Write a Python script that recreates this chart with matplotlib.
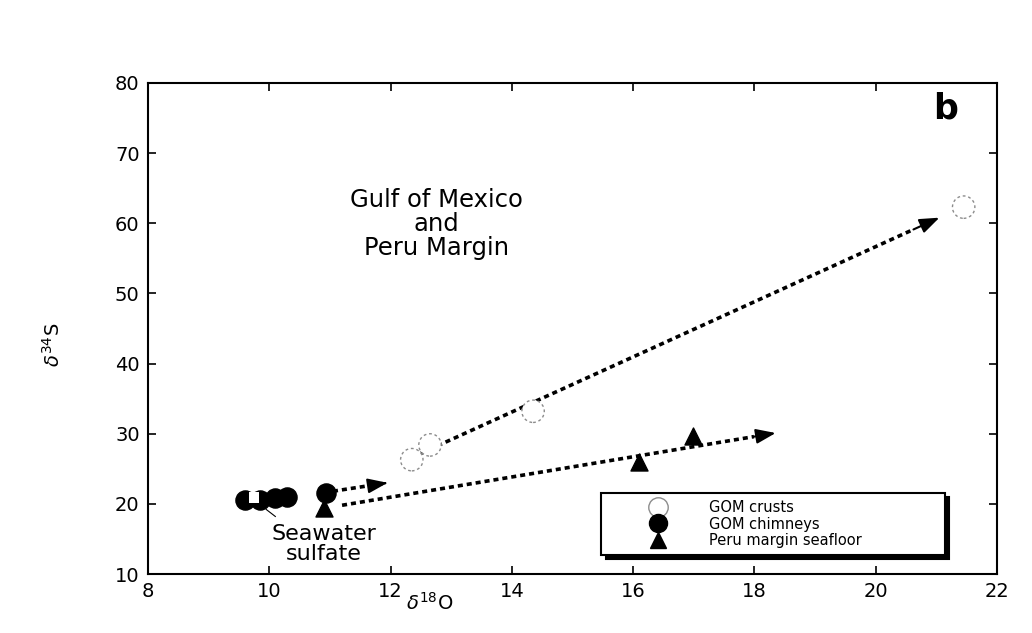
import matplotlib
matplotlib.use("Agg")
import matplotlib.pyplot as plt
from matplotlib.lines import Line2D

plt.rcParams['font.family'] = ['DejaVu Sans']
plt.rcParams['mathtext.fontset'] = 'dejavusans'

# delta-18O / delta-34S values
crust_d18o = [12.35, 12.65, 14.35, 21.45]
crust_d34s = [26.3, 28.4, 33.2, 62.3]

chimney_d18o = [9.60, 9.85, 10.10, 10.30, 10.93]
chimney_d34s = [20.6, 20.5, 20.9, 21.0, 21.6]

peru_d18o = [10.90, 16.10, 16.98]
peru_d34s = [19.4, 26.0, 29.7]

seawater_d18o = [9.75]
seawater_d34s = [20.9]

# trend arrows: (start d18O, start d34S, end d18O, end d34S)
trend_arrows = [
    (11.05, 21.8, 11.95, 23.0),
    (12.50, 27.2, 21.05, 60.8),
    (11.20, 19.8, 18.35, 30.1),
]

fig = plt.figure(figsize=(10.32, 6.33), dpi=100)
ax = fig.add_axes([0.1434, 0.0932, 0.8227, 0.7757])

ax.set_xlim(8, 22)
ax.set_ylim(10, 80)
ax.set_xticks(range(8, 23, 2))
ax.set_yticks(range(10, 81, 10))
ax.tick_params(direction='in', length=6, width=1.2, labelsize=14,
               top=True, right=True, pad=6)
for s in ax.spines.values():
    s.set_linewidth(1.5)

# dotted trend lines with solid heads
for x0, y0, x1, y1 in trend_arrows:
    fx = x0 + (x1 - x0) * 0.95
    fy = y0 + (y1 - y0) * 0.95
    ax.plot([x0, fx], [y0, fy], color='black', lw=2.6,
            linestyle=(0, (1.4, 1.1)), zorder=3)
    ax.annotate('', xy=(x1, y1), xytext=(fx, fy),
                arrowprops=dict(arrowstyle='-|>,head_length=1.2,head_width=0.45',
                                color='black', lw=1.5, shrinkA=0, shrinkB=0),
                zorder=4)

ax.scatter(crust_d18o, crust_d34s, s=260, facecolors='white',
           edgecolors='0.55', linewidths=1.0, linestyle=(0, (2, 2)), zorder=5)
ax.scatter(chimney_d18o, chimney_d34s, s=190, color='black', zorder=5)
ax.scatter(peru_d18o, peru_d34s, s=150, marker='^', color='black', zorder=5)
ax.scatter(seawater_d18o, seawater_d34s, s=60, marker='s', color='white',
           edgecolors='none', zorder=6)

ax.plot([9.95, 10.1], [19.2, 18.2], color='black', lw=0.8)

ax.text(12.75, 59.9, 'Gulf of Mexico\nand\nPeru Margin', ha='center',
        va='center', fontsize=17.5, linespacing=1.0)
ax.text(10.9, 14.3, 'Seawater\nsulfate', ha='center', va='center',
        fontsize=16, linespacing=1.0)
ax.text(21.15, 76.4, 'b', ha='center', va='center', fontsize=25,
        fontweight='bold')

ax.set_xlabel(r'$\delta^{18}$O', fontsize=14)
ax.set_ylabel(r'$\delta^{34}$S', fontsize=14)
ax.xaxis.set_label_coords(0.332, -0.037)
ax.yaxis.set_label_coords(-0.099, 0.466)

handles = [
    Line2D([], [], marker='o', ls='none', ms=14, mfc='white', mec='0.55',
           mew=1.0),
    Line2D([], [], marker='o', ls='none', ms=13, mfc='black', mec='black'),
    Line2D([], [], marker='^', ls='none', ms=12, mfc='black', mec='black'),
]
labels = ['GOM crusts', 'GOM chimneys', 'Peru margin seafloor']
leg = ax.legend(handles, labels, loc='lower left',
                bbox_to_anchor=(0.534, 0.039, 0.405, 0.126), mode='expand',
                fontsize=10.5, frameon=True, fancybox=False, borderaxespad=0,
                handlelength=6.8, handletextpad=0.1, borderpad=0.45,
                labelspacing=0.12,
                shadow={'color': 'black', 'alpha': 1.0, 'ox': 3, 'oy': -3})
leg.get_frame().set_edgecolor('black')
leg.get_frame().set_linewidth(1.5)
leg.get_frame().set_alpha(1.0)

fig.savefig('out.png', dpi=100)
